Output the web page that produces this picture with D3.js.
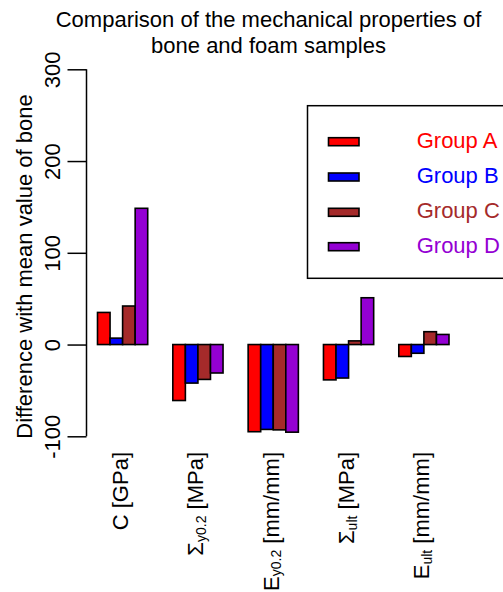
<!DOCTYPE html>
<html>
<head>
<meta charset="utf-8">
<script src="https://cdn.jsdelivr.net/npm/d3@7"></script>
<style>
  html, body { margin: 0; padding: 0; background: #fff; }
  svg { display: block; font-family: "Liberation Sans", Arial, sans-serif; }
</style>
</head>
<body>
<svg id="chart" width="503" height="592"></svg>
<script>
// Property labels: main symbol, subscript, unit
const catMain = ["C", "\u03A3", "E", "\u03A3", "E"];
const catSub = ["", "y0.2", "y0.2", "ult", "ult"];
const catUnit = ["[GPa]", "[MPa]", "[mm/mm]", "[MPa]", "[mm/mm]"];
const categories = ["C", "Sy0.2", "Ey0.2", "Sult", "Eult"];

// Difference with mean value of bone, per group
const groupA = [35, -61, -95, -38.5, -13];
const groupB = [7, -42, -92.5, -36.5, -9.5];
const groupC = [42, -38, -93, 4, 14];
const groupD = [148.5, -31, -95.5, 51, 11];

const groupNames = ["Group A", "Group B", "Group C", "Group D"];
const groupColors = ["#FF0000", "#0000FF", "#A52A2A", "#9400D3"];
const yTicks = [-100, 0, 100, 200, 300];

const series = [groupA, groupB, groupC, groupD];
const svg = d3.select("#chart");

const y = d3.scaleLinear().domain([-100, 300]).range([436.3, 69.3]);
const x0 = d3.scaleBand().domain(categories).range([97.5, 449]).paddingInner(1 / 3).paddingOuter(0);
const x1 = d3.scaleBand().domain(groupNames).range([0, x0.bandwidth()]).padding(0);

// Title
const title = svg.append("text")
  .attr("x", 268.5).attr("text-anchor", "middle")
  .attr("font-size", 22).attr("fill", "#000");
title.append("tspan").attr("x", 268.5).attr("y", 27).text("Comparison of the mechanical properties of");
title.append("tspan").attr("x", 268.5).attr("y", 53).text("bone and foam samples");

// Bars
const groups = svg.append("g").selectAll("g")
  .data(categories)
  .join("g")
  .attr("transform", d => `translate(${x0(d)},0)`);

groups.selectAll("rect")
  .data((d, i) => series.map((s, k) => ({ name: groupNames[k], value: s[i], color: groupColors[k] })))
  .join("rect")
  .attr("x", d => x1(d.name))
  .attr("width", x1.bandwidth())
  .attr("y", d => y(Math.max(0, d.value)))
  .attr("height", d => Math.abs(y(d.value) - y(0)))
  .attr("fill", d => d.color)
  .attr("stroke", "#000")
  .attr("stroke-width", 1.6);

// Y axis (plain hyphen for negative numbers)
const yAxis = d3.axisLeft(y).tickValues(yTicks).tickSize(19).tickPadding(6).tickFormat(d => String(d));
const gy = svg.append("g").attr("transform", "translate(86.5,0)").call(yAxis);
gy.select(".domain").attr("d", `M0,${y(300)}V${y(-100)}`).attr("stroke", "#000").attr("stroke-width", 1.5);
gy.selectAll(".tick line").attr("stroke", "#000").attr("stroke-width", 1.5);
gy.selectAll(".tick text")
  .attr("font-size", 22)
  .attr("font-family", "'Liberation Sans', Arial, sans-serif")
  .attr("fill", "#000")
  .attr("x", null).attr("dy", null)
  .attr("text-anchor", "middle")
  .attr("transform", "translate(-26.5,0) rotate(-90)");

// Y axis title
svg.append("text")
  .attr("transform", "translate(32,266.5) rotate(-90)")
  .attr("text-anchor", "middle")
  .attr("font-size", 22)
  .attr("fill", "#000")
  .text("Difference with mean value of bone");

// Category labels, rotated, with subscripts
categories.forEach((c, i) => {
  const cx = x0(c) + x0.bandwidth() / 2 + 5.5;
  const t = svg.append("text")
    .attr("transform", `translate(${cx},452) rotate(-90)`)
    .attr("text-anchor", "end")
    .attr("font-size", 22)
    .attr("fill", "#000");
  t.append("tspan").text(catMain[i]);
  if (catSub[i]) {
    t.append("tspan").attr("font-size", 14).attr("dy", 2.5).text(catSub[i]);
    t.append("tspan").attr("dy", -2.5).text(" " + catUnit[i]);
  } else {
    t.append("tspan").text(" " + catUnit[i]);
  }
});

// Legend
svg.append("rect")
  .attr("x", 307.5).attr("y", 105.7)
  .attr("width", 230).attr("height", 172.6)
  .attr("fill", "none").attr("stroke", "#000").attr("stroke-width", 1.5);

const legendY = [141.7, 177, 212.3, 246.7];
const lg = svg.append("g").selectAll("g")
  .data(groupNames)
  .join("g")
  .attr("transform", (d, i) => `translate(0,${legendY[i]})`);
lg.append("rect")
  .attr("x", 328.5).attr("y", -4)
  .attr("width", 30.5).attr("height", 8)
  .attr("fill", (d, i) => groupColors[i])
  .attr("stroke", "#000").attr("stroke-width", 1.6);
lg.append("text")
  .attr("x", 416.7).attr("y", 6)
  .attr("font-size", 22)
  .attr("fill", (d, i) => groupColors[i])
  .text(d => d);
</script>
</body>
</html>
